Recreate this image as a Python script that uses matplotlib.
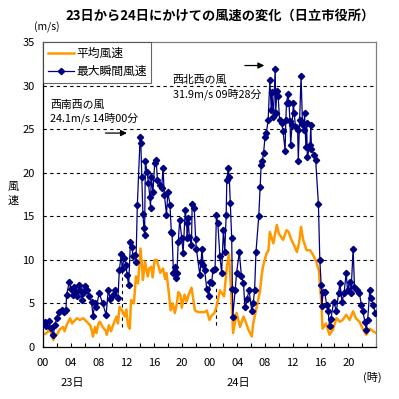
import matplotlib
matplotlib.use("Agg")
import matplotlib.pyplot as plt
from matplotlib.ticker import MultipleLocator, FixedLocator, FixedFormatter

plt.rcParams['font.family'] = ['Noto Sans CJK JP', 'DejaVu Sans']

# ---- data (hours from 23日 00:00) ----
gust_hours = [0.0, 0.3, 0.5, 0.8, 1.1, 1.5, 1.7, 2.0, 2.3, 2.7, 3.0, 3.3, 3.4, 3.8, 4.0, 4.3, 4.5, 4.8,
              4.9, 5.2, 5.4, 5.6, 5.8, 6.0, 6.3, 6.7, 7.0, 7.2, 7.5, 7.7, 8.1, 8.6, 9.1, 9.4, 9.7, 10.1,
              10.4, 10.8, 11.0, 11.3, 11.4, 11.7, 12.0, 12.1, 12.35, 12.6, 12.8, 13.0, 13.2, 13.4, 13.6,
              14.0, 14.1, 14.25, 14.4, 14.55, 14.65, 14.75, 15.0, 15.2, 15.4, 15.5, 15.6, 15.85, 16.1,
              16.3, 16.5, 16.9, 17.1, 17.3, 17.5, 17.8, 18.0, 18.3, 18.5, 18.6, 18.8, 19.0, 19.1, 19.3,
              19.5, 19.7, 20.0, 20.2, 20.5, 20.7, 20.8, 20.9, 21.1, 21.4, 21.5, 21.8, 22.0, 22.1, 22.6,
              22.8, 22.9, 23.1, 23.3, 23.6, 23.9, 24.1, 24.3, 24.5, 24.8, 25.0, 25.2, 25.5, 25.75, 26.0,
              26.2, 26.4, 26.5, 26.7, 26.85, 27.0, 27.2, 27.3, 27.35, 27.7, 27.9, 28.3, 28.6, 28.9, 29.1,
              29.4, 29.7, 30.1, 30.3, 30.5, 30.7, 31.1, 31.3, 31.45, 31.6, 31.8, 32.0, 32.2, 32.45, 32.7,
              32.9, 33.0, 33.2, 33.47, 33.55, 33.7, 33.9, 34.1, 34.4, 34.6, 34.9, 35.0, 35.1, 35.3, 35.45,
              35.6, 35.7, 35.9, 36.1, 36.2, 36.4, 36.7, 36.8, 37.0, 37.2, 37.4, 37.6, 37.7, 37.9, 38.0,
              38.1, 38.5, 38.6, 38.7, 39.1, 39.3, 39.7, 39.9, 40.1, 40.2, 40.4, 40.6, 40.9, 41.1, 41.3,
              41.5, 41.9, 42.3, 42.6, 42.8, 43.1, 43.4, 43.7, 43.9, 44.2, 44.4, 44.7, 44.9, 45.3, 45.6,
              45.9, 46.1, 46.4, 46.6, 46.8, 47.1, 47.3, 47.6, 47.9]
gust_values = [2.7, 2.9, 2.4, 3.0, 2.2, 1.4, 2.5, 3.3, 4.0, 4.2, 4.0, 4.2, 6.0, 7.5, 6.7, 6.0, 6.9, 6.3,
               5.8, 7.1, 6.5, 5.4, 6.2, 7.0, 6.5, 5.8, 5.2, 3.6, 5.0, 4.6, 6.2, 5.0, 3.7, 6.5, 5.5, 6.0,
               6.5, 5.6, 8.8, 10.7, 9.0, 10.2, 9.4, 8.3, 7.1, 12.1, 11.5, 10.4, 10.6, 9.8, 16.3,
               24.1, 23.4, 19.5, 15.3, 13.6, 12.9, 21.3, 20.1, 18.8, 17.2, 15.9, 19.5, 17.8, 21.1,
               21.5, 19.2, 18.6, 18.2, 20.5, 17.4, 15.2, 17.8, 16.3, 13.2, 13.1, 8.5, 9.2, 7.9, 8.5,
               12.1, 14.6, 12.5, 10.8, 15.7, 14.2, 12.5, 14.8, 12.6, 11.7, 16.4, 15.9, 12.4, 11.3, 8.3,
               9.8, 11.3, 9.4, 8.8, 6.7, 5.8, 7.5, 7.3, 8.8, 8.9, 15.1, 14.2, 10.4, 8.5, 13.4,
               10.9, 15.1, 19.2, 20.5, 19.5, 16.5, 12.5, 6.7, 3.5, 6.5, 8.5, 10.9, 8.1, 7.3, 4.6,
               5.5, 6.5, 4.1, 5.0, 6.5, 10.9, 15.0, 18.4, 20.9, 21.3, 22.3, 24.1, 24.6, 26.0, 30.6,
               27.2, 29.3, 26.4, 31.9, 26.9, 29.4, 28.8, 26.0, 25.7, 24.8, 22.5, 26.0, 28.0, 29.0, 28.0,
               25.9, 23.2, 25.5, 28.0, 26.8, 25.3, 24.9, 21.4, 26.1, 31.1, 25.6, 24.9, 26.8, 22.9, 25.7,
               21.8, 23.2, 25.5, 22.7, 22.0, 21.5, 16.4, 10.0, 7.1, 4.7, 6.3, 6.3, 4.8, 4.1, 2.4,
               3.2, 5.2, 4.1, 6.2, 7.3, 5.2, 6.2, 8.5, 6.5, 7.5, 6.2, 11.3, 6.9, 6.5, 6.2,
               4.8, 4.1, 2.9, 2.0, 3.1, 6.5, 5.6, 4.8, 3.9]

mean_hours = [0.0, 0.5, 1.0, 1.3, 1.5, 1.8, 2.0, 2.4, 2.9, 3.1, 3.4, 3.9, 4.2, 4.4, 4.9, 5.3, 5.8, 6.3,
              6.8, 7.0, 7.2, 7.5, 7.7, 8.0, 8.2, 8.6, 9.1, 9.2, 9.5, 9.8, 10.1, 10.6, 10.8, 11.05, 11.4,
              11.8, 12.0, 12.25, 12.5, 12.7, 13.1, 13.4, 13.7, 14.05, 14.3, 14.4, 14.7, 15.1, 15.3, 15.6,
              15.8, 16.1, 16.4, 16.9, 17.3, 17.6, 17.8, 18.1, 18.4, 18.7, 19.0, 19.3, 19.5, 19.8, 20.0,
              20.4, 20.7, 21.0, 21.4, 21.6, 21.9, 22.4, 22.9, 23.3, 23.6, 24.0, 24.3, 24.7, 25.0, 25.5,
              26.1, 26.5, 26.8, 27.0, 27.3, 27.4, 27.9, 28.4, 28.9, 29.3, 29.6, 30.1, 30.3, 30.8, 31.3,
              31.5, 31.7, 32.2, 32.5, 32.7, 33.2, 33.7, 34.0, 34.6, 35.1, 35.4, 35.8, 36.3, 36.6, 36.9,
              37.2, 37.5, 38.0, 38.5, 38.9, 39.4, 39.8, 39.9, 40.1, 40.3, 40.8, 41.3, 41.8, 42.3, 42.8,
              43.2, 43.7, 44.2, 44.7, 45.1, 45.6, 46.1, 46.6, 47.1, 47.6, 48.0]
mean_values = [1.4, 1.6, 2.0, 1.2, 0.8, 1.4, 1.4, 2.0, 2.3, 1.8, 2.5, 3.3, 2.7, 2.9, 3.3, 3.1, 3.3, 2.9,
               2.5, 2.0, 1.2, 2.3, 1.6, 2.7, 2.9, 2.3, 1.8, 1.4, 2.5, 1.8, 2.5, 3.5, 2.7, 4.6, 4.2,
               3.5, 4.3, 2.5, 2.1, 5.4, 5.0, 8.1, 7.3, 11.3, 9.0, 7.7, 9.8, 8.1, 9.0, 9.2,
               8.0, 10.0, 10.0, 8.5, 9.0, 7.8, 8.5, 6.5, 4.2, 5.0, 3.9, 5.0, 6.3, 6.0, 4.5,
               6.0, 5.2, 6.0, 6.8, 5.8, 4.2, 4.0, 4.0, 4.0, 4.2, 3.1, 3.6, 3.9, 4.6, 6.5,
               5.8, 9.2, 10.7, 8.1, 3.5, 1.6, 3.9, 2.3, 3.5, 2.7, 2.0, 1.2, 2.7, 4.6, 6.5,
               8.1, 9.2, 10.7, 11.1, 13.2, 11.9, 14.0, 13.0, 12.3, 13.4, 13.2, 12.3, 11.5, 10.9, 11.9,
               13.8, 12.3, 11.1, 11.1, 10.6, 9.8, 8.6, 7.3, 5.4, 2.1, 2.7, 1.4, 2.0, 3.3, 2.9,
               3.1, 3.7, 3.1, 4.1, 3.3, 2.9, 2.1, 1.4, 2.1, 1.8, 1.6]

gap_hours = [11.4, 25.0]
gap_low = [2.3, 2.5]
gap_high = [10.4, 6.9]

series_names = ['平均風速', '最大瞬間風速']
tick_hours = [0, 4, 8, 12, 16, 20, 24, 28, 32, 36, 40, 44]
tick_labels = ['00', '04', '08', '12', '16', '20', '00', '04', '08', '12', '16', '20']
day_labels = ['23日', '24日']
day_label_hours = [4.2, 28.2]
notes = ['西南西の風\n24.1m/s 14時00分', '西北西の風\n31.9m/s 09時28分']
note_pos = [(1.0, 28.4), (18.7, 31.2)]
arrow_from = [(8.6, 24.55), (28.7, 32.3)]
arrow_to = [(12.5, 24.55), (32.3, 32.3)]

ORANGE = '#FF9900'
NAVY = '#000080'

fig = plt.figure(figsize=(3.99, 3.99), dpi=100)
ax = fig.add_axes([43/399, 1-347/399, (376-43)/399, (347-42)/399])

for yv in range(5, 35, 5):
    ax.axhline(yv, color='black', lw=0.8, ls=(0, (3, 3)), zorder=1)
ax.vlines(gap_hours, gap_low, gap_high, colors='black', lw=0.8, linestyles=(0, (3, 3)), zorder=1)

ax.plot(mean_hours, mean_values, color=ORANGE, lw=1.8, label=series_names[0], zorder=2)
ax.plot(gust_hours, gust_values, color=NAVY, lw=0.9, marker='D', ms=3.2, mfc=NAVY, mec=NAVY,
        label=series_names[1], zorder=3)

ax.set_xlim(0, 48)
ax.set_ylim(0, 35)
ax.yaxis.set_major_locator(MultipleLocator(5))
ax.xaxis.set_major_locator(FixedLocator(tick_hours))
ax.xaxis.set_major_formatter(FixedFormatter(tick_labels))
ax.xaxis.set_minor_locator(MultipleLocator(2))
ax.tick_params(axis='x', which='both', direction='in', length=3, width=0.8, labelsize=8, pad=8)
ax.tick_params(axis='y', direction='out', length=0, labelsize=8, pad=6)

for s in ['top', 'right']:
    ax.spines[s].set_color('#808080')
for s in ['left', 'bottom']:
    ax.spines[s].set_color('black')
for s in ax.spines.values():
    s.set_linewidth(0.9)

leg = ax.legend(loc='upper left', bbox_to_anchor=(0, 1), frameon=True, fancybox=False,
                edgecolor='#404040', fontsize=8.5, handlelength=2.2, handletextpad=0.2,
                borderpad=0.4, labelspacing=0.45, borderaxespad=0)
leg.get_frame().set_linewidth(0.8)

for txt, pos in zip(notes, note_pos):
    ax.text(pos[0], pos[1], txt, fontsize=7.8, ha='left', va='top', linespacing=1.35)
for a, b in zip(arrow_from, arrow_to):
    ax.annotate('', xy=b, xytext=a,
                arrowprops=dict(arrowstyle='-|>', color='black', lw=0.9, mutation_scale=9))

for lab, h in zip(day_labels, day_label_hours):
    ax.text(h, -0.118, lab, transform=ax.get_xaxis_transform(), ha='center', va='center', fontsize=8)
fig.text(372/399, 1-377/399, '(時)', ha='center', va='center', fontsize=8)

fig.text(220/399, 1-16/399, '23日から24日にかけての風速の変化（日立市役所）', ha='center', va='center',
         fontsize=9.5, fontweight='bold')
fig.text(47/399, 1-27/399, '(m/s)', ha='center', va='center', fontsize=7.5)
fig.text(13/399, 1-194/399, '風\n速', ha='center', va='center', fontsize=8, linespacing=1.4)

fig.savefig('out.png', dpi=100)
